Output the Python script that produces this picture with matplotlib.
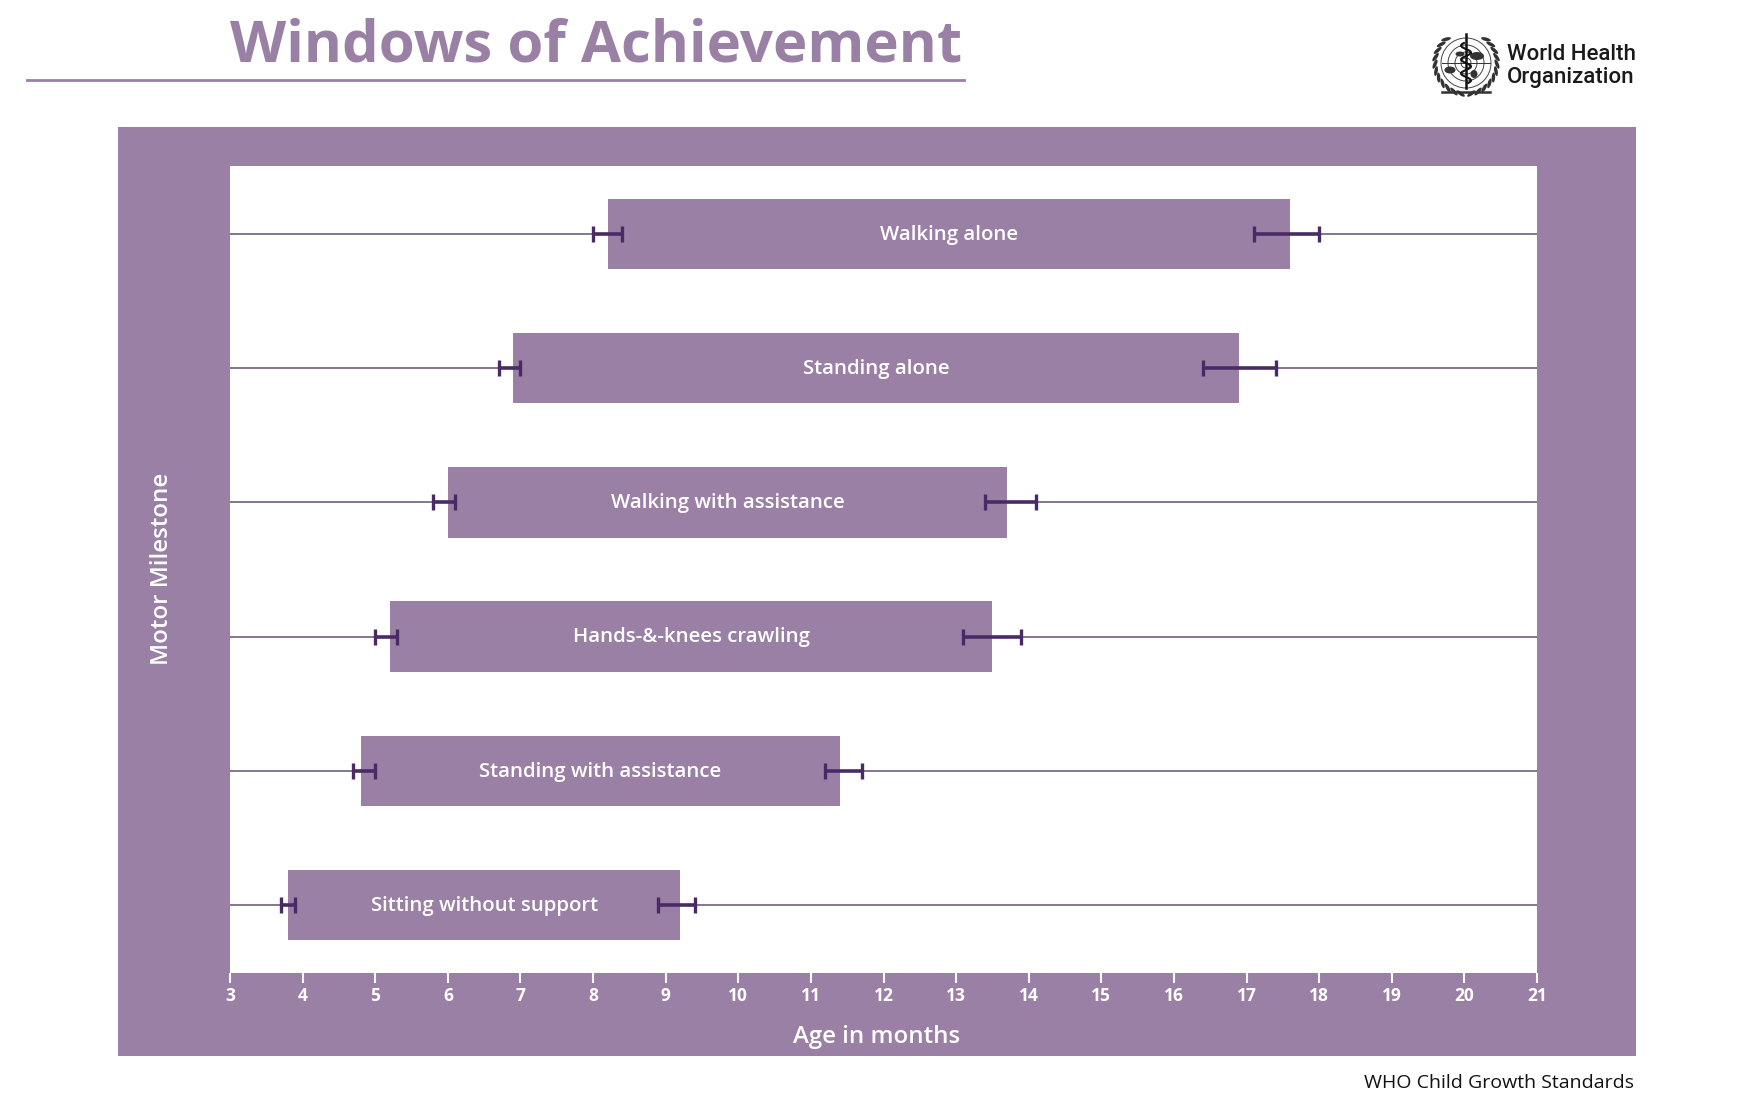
import numpy as np
import matplotlib
matplotlib.use("Agg")
import matplotlib.pyplot as plt
from matplotlib.patches import Rectangle, Circle, Ellipse

milestones = ["Sitting without support", "Standing with assistance", "Hands-&-knees crawling",
              "Walking with assistance", "Standing alone", "Walking alone"]
window_start = [3.8, 4.8, 5.2, 6.0, 6.9, 8.2]
window_end = [9.2, 11.4, 13.5, 13.7, 16.9, 17.6]
start_ci_low = [3.7, 4.7, 5.0, 5.8, 6.7, 8.0]
start_ci_high = [3.9, 5.0, 5.3, 6.1, 7.0, 8.4]
end_ci_low = [8.9, 11.2, 13.1, 13.4, 16.4, 17.1]
end_ci_high = [9.4, 11.7, 13.9, 14.1, 17.4, 18.0]
month_ticks = list(range(3, 22))

PURPLE = "#9b80a6"
DARK = "#4a2a66"
LINE = "#85758f"
W, H = 1753, 1108
FONT = ["Open Sans", "DejaVu Sans"]
plt.rcParams["font.family"] = FONT

def rect(x0, y0, x1, y1):
    return [x0 / W, 1 - y1 / H, (x1 - x0) / W, (y1 - y0) / H]

fig = plt.figure(figsize=(W / 100, H / 100), dpi=100, facecolor="white")
fig.patches.append(Rectangle((118 / W, 1 - 1056 / H), (1636 - 118) / W, (1056 - 127) / H,
                             transform=fig.transFigure, fc=PURPLE, ec="none", zorder=-5))
fig.add_artist(plt.Line2D([27 / W, 964 / W], [1 - 80 / H] * 2, color=PURPLE, lw=2))

fig.text(230 / W, 1 - 46 / H, "Windows of Achievement", fontsize=41.9, fontweight="bold",
         color=PURPLE, ha="left", va="center", fontfamily=FONT)

ax = fig.add_axes(rect(230, 166, 1537, 973), facecolor="white")
ax.set_xlim(3, 21)
ax.set_ylim(-0.507, 5.507)
y = np.arange(len(milestones))

ax.hlines(y, 3, 21, color=LINE, lw=1.4, zorder=1)
ax.barh(y, np.array(window_end) - np.array(window_start), left=window_start, height=0.525,
        color=PURPLE, edgecolor="none", zorder=2)
for i, name in enumerate(milestones):
    ax.hlines(y[i], start_ci_low[i], start_ci_high[i], color=DARK, lw=2.6, zorder=3)
    ax.hlines(y[i], end_ci_low[i], end_ci_high[i], color=DARK, lw=2.6, zorder=3)
    for v in (start_ci_low[i], start_ci_high[i], end_ci_low[i], end_ci_high[i]):
        ax.plot([v], [y[i]], marker="|", ms=12, mew=2.4, color=DARK, zorder=4)
    ax.text((window_start[i] + window_end[i]) / 2, y[i] + 0.012, name, color="white", fontsize=14.7,
            fontweight="semibold", ha="center", va="center_baseline", zorder=5)

ax.set_xticks(month_ticks)
ax.set_yticks([])
ax.tick_params(axis="x", colors="white", length=7, width=1.5, pad=3, labelsize=12.5)
for label in ax.get_xticklabels():
    label.set_fontweight("bold")
for s in ax.spines.values():
    s.set_visible(False)

fig.text(877 / W, 1 - 1037 / H, "Age in months", color="white", fontsize=17.3, ha="center",
         va="center", fontweight="semibold")
fig.text(162 / W, 1 - 569 / H, "Motor Milestone", color="white", fontsize=17.3, ha="center",
         va="center", rotation=90, fontweight="semibold")
fig.text(1634 / W, 1 - 1083 / H, "WHO Child Growth Standards", color="#111111", fontsize=14,
         ha="right", va="center")

# WHO logo
logo = fig.add_axes(rect(1425, 25, 1510, 100))
logo.set_xlim(1425, 1510)
logo.set_ylim(100, 25)
logo.axis("off")
cx, cy = 1466, 63
for r in (25, 18, 11, 5):
    logo.add_patch(Circle((cx, cy), r, fc="none", ec="#444444", lw=0.7))
logo.plot([cx - 24, cx + 24], [cy, cy], color="#333333", lw=0.7)
logo.plot([cx, cx], [cy - 29, cy + 25], color="#111111", lw=1.8)
t = np.linspace(-1, 1, 60)
logo.plot(cx + 5 * np.sin(t * 9), cy + t * 20, color="#111111", lw=1.5)
for ex, ey, ew, eh in [(-16, 7, 11, 7), (11, -7, 14, 8), (-6, -9, 9, 5), (8, 11, 7, 8)]:
    logo.add_patch(Ellipse((cx + ex, cy + ey), ew, eh, fc="#333333", ec="none"))
for side in (-1, 1):
    for a in np.linspace(-50, 80, 11):
        ra = np.deg2rad(a)
        logo.add_patch(Ellipse((cx + side * 31 * np.cos(ra), cy + 31 * np.sin(ra)), 10, 3.5,
                               angle=side * (a + 65), fc="#333333", ec="none"))
logo.plot([cx - 24, cx + 24], [cy + 29, cy + 29], color="#333333", lw=1.8)

NARROW = ["Roboto", "DejaVu Sans"]
fig.text(1507 / W, 1 - 54 / H, "World Health", color="#1a1a1a", fontsize=16, ha="left",
         va="center", fontfamily=NARROW, fontweight="medium")
fig.text(1507 / W, 1 - 77 / H, "Organization", color="#1a1a1a", fontsize=16, ha="left",
         va="center", fontfamily=NARROW, fontweight="medium")

fig.savefig("out.png", dpi=100, facecolor="white")
